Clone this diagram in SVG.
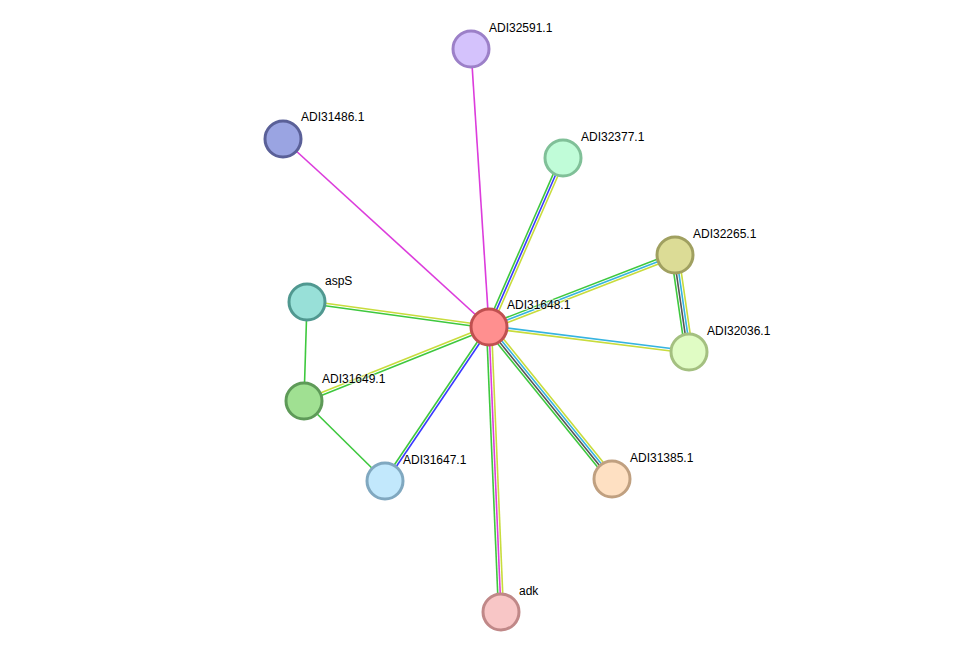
<svg xmlns="http://www.w3.org/2000/svg" width="976" height="658" viewBox="0 0 976 658">
<style>
.e{stroke-width:1.6;fill:none}
.g{stroke:#3ec83e}.b{stroke:#3a3aff}.y{stroke:#c8dc3c}.c{stroke:#36b4e0}.m{stroke:#dc3cdc}.d{stroke:#555555}
.n{stroke-width:3}
text{font-family:"Liberation Sans",Arial,sans-serif;font-size:12px;fill:#000;stroke:#fff;stroke-width:2;stroke-opacity:0.6;paint-order:stroke}
</style>
<rect width="976" height="658" fill="#fff"/>
<g id="edges" class="e">
<line class="e m" x1="471" y1="49" x2="489" y2="327"/>
<line class="e m" x1="283" y1="139" x2="489" y2="327"/>
<line class="e g" x1="486.7" y1="326" x2="560.7" y2="157"/>
<line class="e b" x1="489" y1="327" x2="563" y2="158"/>
<line class="e y" x1="491.3" y1="328" x2="565.3" y2="159"/>
<line class="e g" x1="488.1" y1="324.7" x2="674.1" y2="252.7"/>
<line class="e c" x1="489" y1="327" x2="675" y2="255"/>
<line class="e y" x1="489.9" y1="329.3" x2="675.9" y2="257.3"/>
<line class="e c" x1="489.15" y1="325.76" x2="689.15" y2="350.76"/>
<line class="e y" x1="488.85" y1="328.24" x2="688.85" y2="353.24"/>
<line class="e g" x1="671.29" y1="255.54" x2="685.29" y2="352.54"/>
<line class="e d" x1="673.76" y1="255.18" x2="687.76" y2="352.18"/>
<line class="e c" x1="676.24" y1="254.82" x2="690.24" y2="351.82"/>
<line class="e y" x1="678.71" y1="254.46" x2="692.71" y2="351.46"/>
<line class="e g" x1="486.09" y1="329.36" x2="609.09" y2="481.36"/>
<line class="e d" x1="488.03" y1="327.79" x2="611.03" y2="479.79"/>
<line class="e c" x1="489.97" y1="326.21" x2="612.97" y2="478.21"/>
<line class="e y" x1="491.91" y1="324.64" x2="614.91" y2="476.64"/>
<line class="e g" x1="486.5" y1="327.1" x2="498.5" y2="612.1"/>
<line class="e m" x1="489" y1="327" x2="501" y2="612"/>
<line class="e y" x1="491.5" y1="326.9" x2="503.5" y2="611.9"/>
<line class="e g" x1="487.96" y1="326.3" x2="383.96" y2="480.3"/>
<line class="e b" x1="490.04" y1="327.7" x2="386.04" y2="481.7"/>
<line class="e y" x1="489.17" y1="325.76" x2="307.17" y2="300.76"/>
<line class="e g" x1="488.83" y1="328.24" x2="306.83" y2="303.24"/>
<line class="e y" x1="488.54" y1="325.84" x2="303.54" y2="399.84"/>
<line class="e g" x1="489.46" y1="328.16" x2="304.46" y2="402.16"/>
<line class="e g" x1="307" y1="302" x2="304" y2="401"/>
<line class="e g" x1="304" y1="401" x2="385" y2="481"/>
</g>
<g id="ADI32591.1"><circle class="n" cx="471" cy="49" r="18" fill="#d4c2fc" stroke="#9c80c8"/><text x="489" y="32">ADI32591.1</text></g>
<g id="ADI31486.1"><circle class="n" cx="283" cy="139" r="18" fill="#9aa4e2" stroke="#5a6098"/><text x="301" y="121">ADI31486.1</text></g>
<g id="ADI32377.1"><circle class="n" cx="563" cy="158" r="18" fill="#c0fcd8" stroke="#80c098"/><text x="581" y="141">ADI32377.1</text></g>
<g id="ADI32265.1"><circle class="n" cx="675" cy="255" r="18" fill="#dcdc96" stroke="#a0a060"/><text x="693" y="238">ADI32265.1</text></g>
<g id="ADI32036.1"><circle class="n" cx="689" cy="352" r="18" fill="#e0fcc4" stroke="#a4c080"/><text x="707" y="335">ADI32036.1</text></g>
<g id="aspS"><circle class="n" cx="307" cy="302" r="18" fill="#98e0d8" stroke="#509890"/><text x="325" y="285">aspS</text></g>
<g id="ADI31649.1"><circle class="n" cx="304" cy="401" r="18" fill="#a0e092" stroke="#5e9a58"/><text x="322" y="383">ADI31649.1</text></g>
<g id="ADI31647.1"><circle class="n" cx="385" cy="481" r="18" fill="#c2e8fc" stroke="#80a8c0"/><text x="403" y="464">ADI31647.1</text></g>
<g id="ADI31385.1"><circle class="n" cx="612" cy="479" r="18" fill="#fee0c2" stroke="#c0a080"/><text x="630" y="462">ADI31385.1</text></g>
<g id="adk"><circle class="n" cx="501" cy="612" r="18" fill="#f8c6c6" stroke="#c08888"/><text x="519" y="595">adk</text></g>
<g id="ADI31648.1"><circle class="n" cx="489" cy="327" r="18" fill="#ff8f8f" stroke="#c05050"/><text x="507" y="309">ADI31648.1</text></g>
</svg>
